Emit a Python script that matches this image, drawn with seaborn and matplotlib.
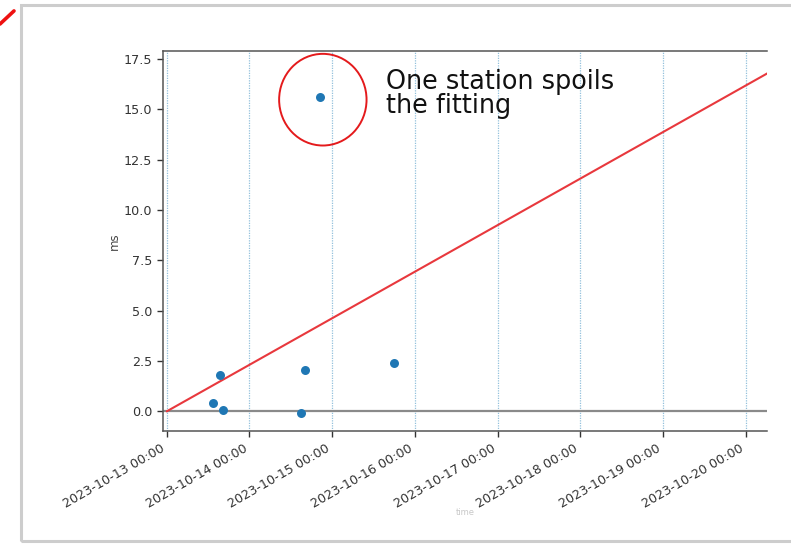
import matplotlib
matplotlib.use("Agg")
import matplotlib.pyplot as plt
import matplotlib.dates as mdates
from matplotlib.patches import Ellipse, Rectangle
from matplotlib.lines import Line2D
import pandas as pd
import seaborn as sns

# Station delay measurements
station_times = [
    "2023-10-13 13:30", "2023-10-13 15:30", "2023-10-13 16:20",
    "2023-10-14 15:00", "2023-10-14 16:00", "2023-10-14 20:35",
    "2023-10-15 18:00",
]
station_ms = [0.40, 1.79, 0.05, -0.08, 2.04, 15.62, 2.39]

# Linear fit through the origin (end points)
fit_times = ["2023-10-13 00:00", "2023-10-21 00:00"]
fit_ms = [0.0, 18.48]

day_ticks = pd.date_range("2023-10-13", "2023-10-20", freq="D")
outlier_index = 5

sns.set_style("ticks")
plt.rcParams["font.family"] = ["DejaVu Sans"]

df = pd.DataFrame({"time": pd.to_datetime(station_times), "ms": station_ms})
fit = pd.DataFrame({"time": pd.to_datetime(fit_times), "ms": fit_ms})

fig = plt.figure(figsize=(7.91, 5.46), dpi=100)
ax = fig.add_axes([0.2065, 0.2112, 0.7628, 0.6959])

ax.axhline(0, color="#8a8a8a", lw=1.6, zorder=1)
sns.lineplot(data=fit, x="time", y="ms", color="#e8383d", lw=1.5, ax=ax, zorder=3)
sns.scatterplot(data=df, x="time", y="ms", color="#1f77b4", s=42, linewidth=0,
                ax=ax, zorder=4)

day0 = mdates.date2num(pd.Timestamp("2023-10-13"))
ax.set_xlim(day0 - 0.041, day0 + 7.255)
ax.set_ylim(-0.96, 17.9)

ax.set_xticks(mdates.date2num(day_ticks))
ax.xaxis.set_major_formatter(mdates.DateFormatter("%Y-%m-%d %H:%M"))
ax.set_yticks([0.0, 2.5, 5.0, 7.5, 10.0, 12.5, 15.0, 17.5])
ax.yaxis.set_major_formatter(matplotlib.ticker.FormatStrFormatter("%.1f"))
ax.grid(axis="x", color="#93c0dc", linestyle=(0, (1, 1)), lw=0.9)
ax.tick_params(labelsize=9.2, colors="#333333", length=4.5, width=1)
for lab in ax.get_xticklabels():
    lab.set_rotation(30)
    lab.set_ha("right")

ax.set_ylabel("ms", fontsize=8.5, color="#444444", labelpad=2)
ax.set_xlabel("time", fontsize=6, color="#c8c8c8", labelpad=-2)

for side in ("left", "top", "bottom"):
    ax.spines[side].set_color("#555555")
    ax.spines[side].set_linewidth(1.1)
ax.spines["right"].set_visible(False)

# Ring around the outlying station
ox = mdates.date2num(df["time"].iloc[outlier_index])
oy = df["ms"].iloc[outlier_index]
ax.add_patch(Ellipse((ox + 0.03, oy - 0.15), width=1.057, height=4.55,
                     fill=False, edgecolor="#e41a1c", lw=1.4, zorder=5))

fig.text(0.488, 0.793, "One station spoils\nthe fitting", fontsize=18.4,
         family=["DejaVu Sans"], color="#111111",
         ha="left", va="baseline", linespacing=0.9)

# Slide frame and pen stroke
fig.add_artist(Rectangle((0.0265, 0.0092), 1.2, 0.9816, transform=fig.transFigure,
                         fill=False, edgecolor="#cdcdcd", lw=2.2))
fig.add_artist(Line2D([0.0, 0.0177], [0.956, 0.980], transform=fig.transFigure,
                      color="#ee1111", lw=2.6, solid_capstyle="round"))

fig.savefig("out.png", dpi=100, facecolor="white")
